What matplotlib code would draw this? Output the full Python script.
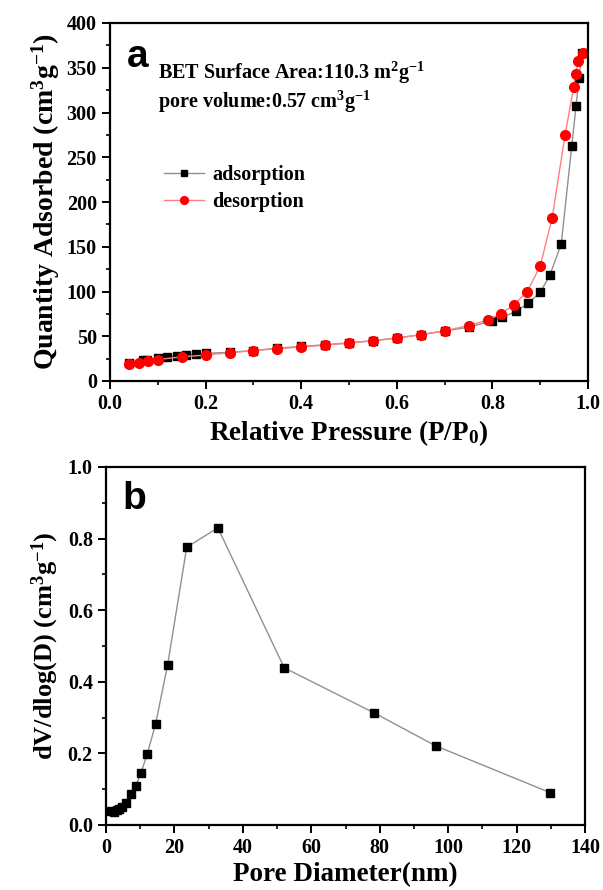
import numpy as np
import matplotlib.pyplot as plt
from matplotlib.ticker import MultipleLocator

# isotherm (panel a)
p_ads = [0.04, 0.068, 0.078, 0.10, 0.12, 0.14, 0.16, 0.18, 0.20, 0.25, 0.30, 0.35, 0.40,
         0.45, 0.50, 0.55, 0.60, 0.65, 0.70, 0.75, 0.80, 0.82, 0.85, 0.875, 0.90, 0.92,
         0.944, 0.966, 0.975, 0.981, 0.988]
q_ads = [20.6, 23.6, 24.0, 26.0, 27.0, 28.0, 29.0, 30.0, 31.0, 32.0, 34.0, 36.7, 38.6,
         40.5, 42.7, 45.0, 48.0, 51.7, 56.0, 60.0, 67.4, 71.0, 78.0, 87.0, 99.0, 118.0,
         153.0, 262.5, 307.0, 339.0, 367.0]
p_des = [0.04, 0.06, 0.08, 0.10, 0.15, 0.20, 0.25, 0.30, 0.35, 0.40, 0.45, 0.50, 0.55,
         0.60, 0.65, 0.70, 0.75, 0.79, 0.818, 0.845, 0.873, 0.90, 0.925, 0.952, 0.97,
         0.974, 0.98, 0.99]
q_des = [18.7, 20.6, 22.5, 24.0, 27.0, 29.0, 31.5, 34.0, 36.0, 38.0, 40.0, 42.3, 45.0,
         48.0, 51.7, 56.0, 62.0, 68.0, 75.0, 85.0, 100.0, 128.5, 182.0, 275.0, 328.0,
         343.0, 357.0, 367.0]

# pore size distribution (panel b)
diam = [1.35, 2.2, 3.1, 3.9, 4.8, 5.8, 7.3, 8.7, 10.2, 12.0, 14.5, 18.0, 23.6, 32.7,
        52.1, 78.4, 96.4, 129.9]
dvdlogd = [0.040, 0.0375, 0.042, 0.045, 0.050, 0.062, 0.086, 0.109, 0.145, 0.197, 0.282,
           0.447, 0.776, 0.830, 0.439, 0.313, 0.221, 0.090]

plt.rcParams['font.family'] = 'Liberation Serif'
plt.rcParams['font.weight'] = 'bold'
plt.rcParams['mathtext.default'] = 'regular'

fig = plt.figure(figsize=(6.03, 8.9), dpi=100)
W, H = 603, 890
ax1 = fig.add_axes([110 / W, 1 - 381 / H, 478 / W, 358 / H])
ax2 = fig.add_axes([106 / W, 1 - 825 / H, 479 / W, 358 / H])

ax1.plot(p_ads, q_ads, color='#909090', lw=1, marker='s', ms=6, mfc='black', mec='black',
         label='adsorption')
ax1.plot(p_des, q_des, color='#ff8080', lw=1, marker='o', ms=7, mfc='red', mec='red',
         label='desorption')
ax1.set_xlim(0, 1.0)
ax1.set_ylim(0, 400)
ax1.xaxis.set_major_locator(MultipleLocator(0.2))
ax1.xaxis.set_minor_locator(MultipleLocator(0.1))
ax1.yaxis.set_major_locator(MultipleLocator(50))
ax1.yaxis.set_minor_locator(MultipleLocator(25))
ax1.set_xlabel('Relative Pressure (P/P$_0$)', fontsize=19.5, fontweight='bold', labelpad=3)
ax1.set_ylabel('Quantity Adsorbed (cm$^3$g$^{-1}$)', fontsize=20, fontweight='bold', labelpad=3)
ax1.text(0.035, 0.905, 'a', transform=ax1.transAxes, fontsize=28, fontweight='bold',
         family='Liberation Sans', va='center')
ax1.text(0.10, 0.86, 'BET Surface Area:110.3 m$^2$g$^{-1}$', transform=ax1.transAxes,
         fontsize=14.5, fontweight='bold', va='center')
ax1.text(0.10, 0.78, 'pore volume:0.57 cm$^3$g$^{-1}$', transform=ax1.transAxes,
         fontsize=14.5, fontweight='bold', va='center')
ax1.legend(loc='upper left', bbox_to_anchor=(0.075, 0.655), frameon=False, fontsize=14.5,
           handlelength=2.0, handletextpad=0.4, labelspacing=0.35, markerscale=0.8)

ax2.plot(diam, dvdlogd, color='#909090', lw=1, marker='s', ms=6, mfc='black', mec='black')
ax2.set_xlim(0, 140)
ax2.set_ylim(0, 1.0)
ax2.xaxis.set_major_locator(MultipleLocator(20))
ax2.xaxis.set_minor_locator(MultipleLocator(10))
ax2.yaxis.set_major_locator(MultipleLocator(0.2))
ax2.yaxis.set_minor_locator(MultipleLocator(0.1))
ax2.set_xlabel('Pore Diameter(nm)', fontsize=19.5, fontweight='bold', labelpad=3)
ax2.set_ylabel('dV/dlog(D) (cm$^3$g$^{-1}$)', fontsize=19, fontweight='bold', labelpad=5)
ax2.text(0.035, 0.91, 'b', transform=ax2.transAxes, fontsize=28, fontweight='bold',
         family='Liberation Sans', va='center')

ax1.xaxis.set_major_formatter(plt.FuncFormatter(lambda v, _: f'{v:.1f}'))
ax2.yaxis.set_major_formatter(plt.FuncFormatter(lambda v, _: f'{v:.1f}'))
for ax in (ax1, ax2):
    for s in ax.spines.values():
        s.set_linewidth(1.6)
    ax.tick_params(which='major', direction='out', length=6, width=1.4, labelsize=14.5,
                   top=False, right=False)
    ax.tick_params(which='minor', direction='out', length=3, width=1.2,
                   top=False, right=False)
    for lbl in ax.get_xticklabels() + ax.get_yticklabels():
        lbl.set_fontweight('bold')

fig.savefig('out.png', dpi=100)
